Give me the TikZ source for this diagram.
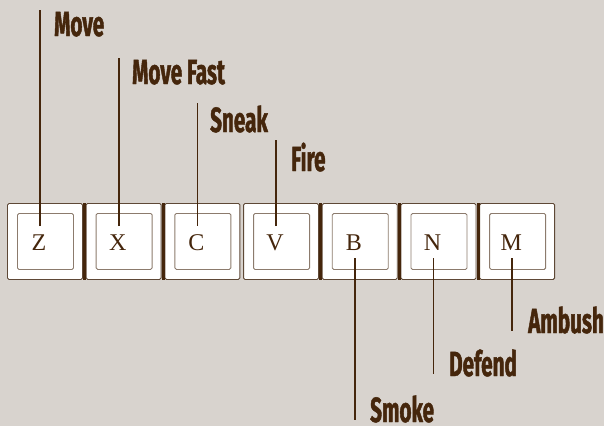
\documentclass[tikz,border=0pt]{standalone}
\usepackage{fontspec}
\setmainfont{Liberation Serif}
\newfontfamily\lblfont[FakeStretch=0.59, FakeBold=1.2]{Fira Sans}
\usetikzlibrary{calc}
\definecolor{bgc}{HTML}{D8D3CE}
\definecolor{ink}{HTML}{45260C}
\definecolor{rimc}{HTML}{5E4836}
\definecolor{capc}{HTML}{8C7B6D}

\tikzset{
    keyout/.style={draw=rimc, fill=white, line width=0.9pt, rounded corners=1.5pt, minimum width=75pt, minimum height=76pt, inner sep=0pt, anchor=north west},
    keyin/.style={draw=capc, fill=white, line width=0.9pt, rounded corners=1.5pt, minimum width=56pt, minimum height=56pt, inner sep=0pt},
    keych/.style={text=ink, font=\fontsize{24}{24}\selectfont, inner sep=8pt, anchor=base},
    lbl/.style={text=ink, font=\lblfont\bfseries\fontsize{35}{35}\selectfont, inner sep=0pt, anchor=base west},
    conn/.style={draw=ink, line width=1.8pt}
}

\begin{document}
\begin{tikzpicture}[x=1pt, y=-1pt]
        % Background and frame
        \useasboundingbox[fill=bgc] (0,0) rectangle (604,426);

        % Keys
        \foreach \k [count=\i from 0] in {Z,X,C,V,B,N,M} {
            \node[keyout] (o\k) at (7+78.7*\i,203) {};
            \node[keyin] (i\k) at ($(o\k.center)+(0.5,0)$) {};
            \node[keych] (k\k) at (39+78.7*\i,250) {\k};
        }

        % Dark edges between keys
        \foreach \k in {X,C,B,N,M}
            \fill[ink] ($(o\k.north west)+(-2.6,-0.4)$) rectangle ($(o\k.south west)+(0.4,0.4)$);

        % Labels above
        \node[lbl] (lMove) at (54,36) {Move};
        \node[lbl] (lFast) at (132,84) {Move Fast};
        \node[lbl] (lSneak) at (210,132) {Sneak};
        \node[lbl] (lFire) at (291,171) {Fire};

        % Labels below
        \node[lbl] (lSmoke) at (370,422) {Smoke};
        \node[lbl] (lDefend) at (449,376) {Defend};
        \node[lbl] (lAmbush) at (528,333) {Ambush};

        % Line ends
        \coordinate (eMove) at (40,10);
        \coordinate (eFast) at (118.7,58);
        \coordinate (eSneak) at (197.4,103);
        \coordinate (eFire) at (276.1,140);
        \coordinate (eSmoke) at (354.8,420);
        \coordinate (eDefend) at (433.5,374);
        \coordinate (eAmbush) at (512.2,331);

        % Connectors
        \draw[conn] (kZ.north -| eMove) -- (eMove);
        \draw[conn] (kX.north -| eFast) -- (eFast);
        \draw[conn] (kC.north -| eSneak) -- (eSneak);
        \draw[conn] (kV.north -| eFire) -- (eFire);
        \draw[conn] (kB.south -| eSmoke) -- (eSmoke);
        \draw[conn] (kN.south -| eDefend) -- (eDefend);
        \draw[conn] (kM.south -| eAmbush) -- (eAmbush);
\end{tikzpicture}
\end{document}
